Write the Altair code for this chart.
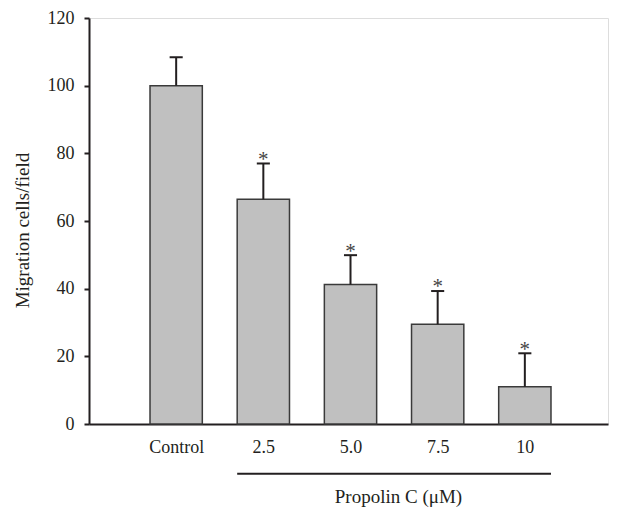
import altair as alt
import pandas as pd

groups = ["Control", "2.5", "5.0", "7.5", "10"]
positions = [1, 2, 3, 4, 5]
means = [100.0, 66.4, 41.2, 29.5, 11.0]
errors = [8.4, 10.6, 8.7, 9.8, 9.9]
signif = ["", "*", "*", "*", "*"]
y_ticks = [0, 20, 40, 60, 80, 100, 120]

df = pd.DataFrame({"group": groups, "pos": positions, "mean": means,
                   "err": errors, "sig": signif})

FONT = "Liberation Serif"
INK = "#231f20"

base = alt.Chart(df).transform_calculate(
    left="datum.pos - 0.3",
    right="datum.pos + 0.3",
    capl="datum.pos - 0.075",
    capr="datum.pos + 0.075",
    top="datum.mean + datum.err",
)

xscale = alt.Scale(domain=[0, 5.954], nice=False, zero=False)
yscale = alt.Scale(domain=[0, 120], nice=False)

label_expr = "['', 'Control', '2.5', '5.0', '7.5', '10', ''][datum.value]"

bars = base.mark_bar(fill="#c0c0c0", stroke="#3a3a3a", strokeWidth=1.5).encode(
    x=alt.X("left:Q", scale=xscale,
            axis=alt.Axis(values=positions, labelExpr=label_expr, title=None,
                          grid=False, ticks=False, tickSize=0, labelPadding=28,
                          labelBaseline="alphabetic", labelFont=FONT, labelFontSize=18,
                          labelColor=INK, domainColor=INK, domainWidth=2)),
    x2="right:Q",
    y=alt.Y("mean:Q", scale=yscale,
            axis=alt.Axis(values=y_ticks, title="Migration cells/field", grid=False,
                          tickSize=5, tickWidth=2, tickColor=INK, labelPadding=10,
                          labelFont=FONT, labelFontSize=18, labelColor=INK,
                          domainColor=INK, domainWidth=2,
                          titleFont=FONT, titleFontSize=19, titleFontWeight="normal",
                          titleColor=INK, titleAngle=-90, titleX=-61, titleY=212,
                          titleBaseline="alphabetic", titleAlign="center")),
    y2=alt.datum(0),
)

stems = base.mark_rule(color=INK, strokeWidth=2).encode(
    x=alt.X("pos:Q", scale=xscale),
    y=alt.Y("mean:Q", scale=yscale),
    y2="top:Q",
)

caps = base.mark_rule(color=INK, strokeWidth=2).encode(
    x=alt.X("capl:Q", scale=xscale),
    x2="capr:Q",
    y=alt.Y("top:Q", scale=yscale),
)

stars = base.mark_text(font=FONT, fontSize=21, color="#444444",
                       baseline="alphabetic", dy=2.4).encode(
    x=alt.X("pos:Q", scale=xscale),
    y=alt.Y("top:Q", scale=yscale),
    text="sig:N",
)

bracket_df = pd.DataFrame({"x1": [positions[1] - 0.3], "x2": [positions[-1] + 0.3],
                           "label": ["Propolin C (\u03bcM)"]})
bracket = alt.Chart(bracket_df).mark_rule(color=INK, strokeWidth=2).encode(
    x=alt.X("x1:Q", scale=xscale),
    x2="x2:Q",
    y=alt.value(455.7),
)
bracket_label = alt.Chart(bracket_df).transform_calculate(
    mid="(datum.x1 + datum.x2) / 2 + 0.05"
).mark_text(font=FONT, fontSize=19, color=INK, baseline="alphabetic").encode(
    x=alt.X("mid:Q", scale=xscale),
    y=alt.value(484.5),
    text="label:N",
)

chart = alt.layer(bars, stems, caps, stars, bracket, bracket_label).properties(
    width=519, height=406,
    padding={"left": 81, "top": 10, "right": 1, "bottom": 84},
    autosize=alt.AutoSizeParams(type="none"),
).configure_view(stroke=INK, strokeWidth=2).configure(background="white")

chart.save("out.html", embed_options={"renderer": "svg", "actions": False})
